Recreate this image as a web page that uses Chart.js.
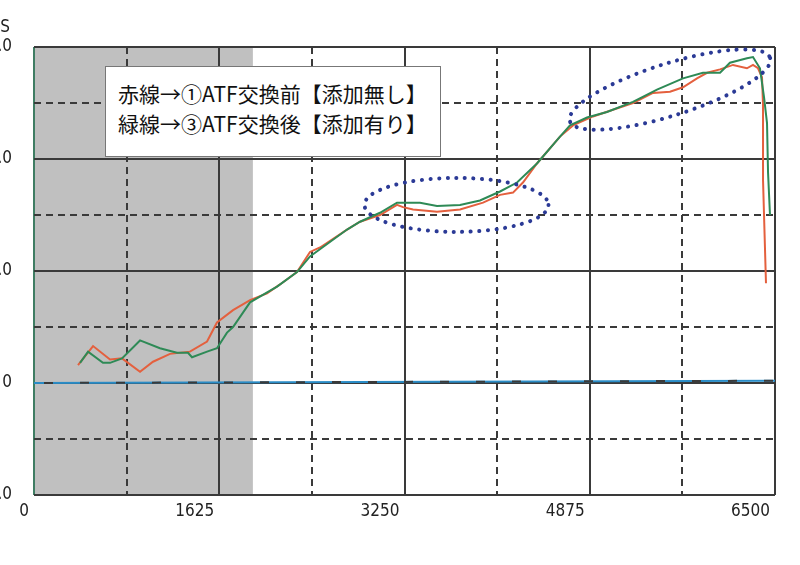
<!DOCTYPE html>
<html lang="ja">
<head>
  <meta charset="UTF-8">
  <title>ATF交換前後の比較</title>
  <script src="https://cdn.jsdelivr.net/npm/chart.js"></script>
  <style>
    body {
      margin: 0;
      background: #fff;
      width: 800px;
      height: 565px;
      overflow: hidden;
      position: relative;
    }
    .chart-box {
      position: absolute;
      left: -20px;
      top: 0;
      width: 820px;
      height: 565px;
    }
    .note {
      position: absolute;
      left: 105px;
      top: 66px;
      width: 336px;
      height: 91px;
      box-sizing: border-box;
      border: 1px solid #777;
      background: #fff;
      padding: 11px 0 0 12px;
      font-family: 'Noto Sans CJK JP', sans-serif;
      font-size: 21px;
      line-height: 30px;
      color: #111;
      white-space: nowrap;
    }
  </style>
</head>
<body>
  <div class="chart-box"><canvas id="atfChart"></canvas></div>
  <div class="note">赤線→①ATF交換前【添加無し】<br>緑線→③ATF交換後【添加有り】</div>
  <script>
    // 赤線 (交換前) - 画像から読み取った値
    var redRpm = [386, 518, 667, 772, 930, 1044, 1193, 1368, 1518, 1605, 1746, 1895, 2044, 2158, 2307, 2421, 2509, 2746, 2860, 3035, 3184, 3237, 3325, 3535, 3737, 3939, 4088, 4202, 4289, 4412, 4614, 4728, 4904, 5079, 5254, 5430, 5579, 5693, 5816, 5904, 6018, 6132, 6254, 6307, 6351, 6386, 6395, 6395, 6421];
    var redVal = [0.16, 0.33, 0.21, 0.22, 0.10, 0.19, 0.26, 0.28, 0.37, 0.54, 0.65, 0.74, 0.80, 0.88, 0.99, 1.17, 1.21, 1.37, 1.44, 1.50, 1.59, 1.57, 1.55, 1.53, 1.55, 1.61, 1.68, 1.70, 1.79, 1.96, 2.20, 2.30, 2.38, 2.44, 2.50, 2.59, 2.60, 2.64, 2.72, 2.77, 2.80, 2.84, 2.81, 2.84, 2.81, 2.73, 2.48, 1.81, 0.89];

    // 緑線 (交換後)
    var greenRpm = [404, 474, 605, 667, 772, 930, 1105, 1254, 1351, 1386, 1518, 1605, 1693, 1746, 1895, 2132, 2307, 2421, 2746, 2860, 3035, 3184, 3386, 3535, 3737, 3912, 4088, 4237, 4412, 4614, 4702, 4851, 5026, 5254, 5465, 5693, 5868, 6018, 6105, 6254, 6307, 6368, 6404, 6430, 6439, 6456];
    var greenVal = [0.18, 0.28, 0.18, 0.18, 0.22, 0.38, 0.31, 0.27, 0.27, 0.23, 0.28, 0.31, 0.45, 0.50, 0.72, 0.86, 0.99, 1.13, 1.37, 1.44, 1.52, 1.61, 1.61, 1.58, 1.59, 1.63, 1.71, 1.79, 1.96, 2.20, 2.30, 2.37, 2.42, 2.51, 2.62, 2.72, 2.77, 2.77, 2.86, 2.90, 2.91, 2.81, 2.55, 2.32, 1.88, 1.50];

    // 青の基準線
    var baseRpm = [0, 6500];
    var baseVal = [0, 0.02];

    // 目盛り
    var xTicks = [0, 1625, 3250, 4875, 6500];
    var xMinorTicks = [812.5, 2437.5, 4062.5, 5687.5];
    var yTicks = [-1, 0, 1, 2, 3];
    var yLabels = ['-1.0', '0', '1.0', '2.0', '3.0'];
    var yMinorTicks = [-0.5, 0.5, 1.5, 2.5];

    var shadeEnd = 1920; // グレー部分の右端 (rpm)

    // 青い点線の楕円 (中心はデータ値)
    var rings = [
      { rpm: 3706, val: 1.59, rx: 92, ry: 27, angle: 0 },
      { rpm: 5579, val: 2.62, rx: 105, ry: 26, angle: -17.5 }
    ];

    function toPoints(xs, ys) {
      return xs.map(function(x, i) { return { x: x, y: ys[i] }; });
    }

    var tickFont = { family: "'Liberation Sans Narrow', 'DejaVu Sans Condensed', 'Liberation Sans', sans-serif", size: 17 };
    var gridColor = '#3a3a3a';

    var shadePlugin = {
      id: 'shade',
      beforeDraw: function(chart) {
        var a = chart.chartArea;
        var ctx = chart.ctx;
        var xEnd = chart.scales.x.getPixelForValue(shadeEnd);
        ctx.save();
        ctx.fillStyle = '#c0c0c0';
        ctx.fillRect(a.left, a.top, xEnd - a.left, a.bottom - a.top);
        ctx.restore();
      }
    };

    var ringPlugin = {
      id: 'rings',
      afterDatasetsDraw: function(chart) {
        var ctx = chart.ctx;
        var xs = chart.scales.x, ys = chart.scales.y;
        ctx.save();
        ctx.strokeStyle = '#2b3a96';
        ctx.lineWidth = 4;
        ctx.lineCap = 'round';
        ctx.setLineDash([0.1, 8.5]);
        rings.forEach(function(r) {
          ctx.beginPath();
          ctx.ellipse(xs.getPixelForValue(r.rpm), ys.getPixelForValue(r.val), r.rx, r.ry, r.angle * Math.PI / 180, 0, Math.PI * 2);
          ctx.stroke();
        });
        ctx.restore();
      },
      afterDraw: function(chart) {
        // 切れている軸の単位表示
        var ctx = chart.ctx;
        ctx.save();
        ctx.fillStyle = '#222';
        ctx.font = "17px 'Liberation Sans Narrow', 'DejaVu Sans Condensed', sans-serif";
        ctx.textAlign = 'right';
        ctx.textBaseline = 'middle';
        ctx.fillText('S', chart.chartArea.left - 24, 28);
        ctx.restore();
      }
    };

    // 先に並べたデータセットほど上に描かれる
    var ctx = document.getElementById('atfChart').getContext('2d');
    var atfChart = new Chart(ctx, {
      type: 'line',
      data: {
        datasets: [
          {
            label: '緑線',
            data: toPoints(greenRpm, greenVal),
            borderColor: '#2e8a56',
            borderWidth: 2,
            pointRadius: 0
          },
          {
            label: '赤線',
            data: toPoints(redRpm, redVal),
            borderColor: '#e4603e',
            borderWidth: 2,
            pointRadius: 0
          },
          {
            data: toPoints(baseRpm, baseVal),
            borderColor: '#3a3a3a',
            borderWidth: 2,
            borderDash: [9, 27],
            borderDashOffset: 26,
            pointRadius: 0
          },
          {
            data: toPoints(baseRpm, baseVal),
            borderColor: '#2a8cc6',
            borderWidth: 2,
            pointRadius: 0
          }
        ]
      },
      options: {
        responsive: true,
        maintainAspectRatio: false,
        animation: false,
        layout: { padding: { top: 47, right: 25, left: 0, bottom: 0 } },
        plugins: {
          legend: { display: false },
          tooltip: { enabled: false }
        },
        scales: {
          x: {
            type: 'linear',
            min: 0,
            max: 6500,
            afterBuildTicks: function(s) { s.ticks = xTicks.map(function(v) { return { value: v }; }); },
            afterFit: function(s) { s.height = 70; },
            ticks: {
              align: 'end',
              labelOffset: -5,
              padding: 6,
              color: '#222',
              font: tickFont,
              callback: function(v) { return String(v); }
            },
            grid: {
              color: function(c) { return c.tick && c.tick.value === 0 ? '#3f7d63' : gridColor; },
              lineWidth: 2,
              drawTicks: false
            },
            border: { display: false }
          },
          xMinor: {
            type: 'linear',
            position: 'top',
            min: 0,
            max: 6500,
            afterBuildTicks: function(s) { s.ticks = xMinorTicks.map(function(v) { return { value: v }; }); },
            ticks: { display: false },
            grid: { color: gridColor, lineWidth: 2, drawTicks: false },
            border: { display: false, dash: [7, 5] }
          },
          y: {
            min: -1,
            max: 3,
            afterBuildTicks: function(s) { s.ticks = yTicks.map(function(v) { return { value: v }; }); },
            afterFit: function(s) { s.width = 54; },
            ticks: {
              padding: 22,
              color: '#222',
              font: tickFont,
              callback: function(v, i) { return yLabels[i]; }
            },
            grid: { color: gridColor, lineWidth: 2, drawTicks: false },
            border: { display: false }
          },
          yMinor: {
            position: 'right',
            min: -1,
            max: 3,
            afterBuildTicks: function(s) { s.ticks = yMinorTicks.map(function(v) { return { value: v }; }); },
            ticks: { display: false },
            grid: { color: gridColor, lineWidth: 2, drawTicks: false },
            border: { display: false, dash: [7, 5] }
          }
        }
      },
      plugins: [shadePlugin, ringPlugin]
    });
  </script>
</body>
</html>
